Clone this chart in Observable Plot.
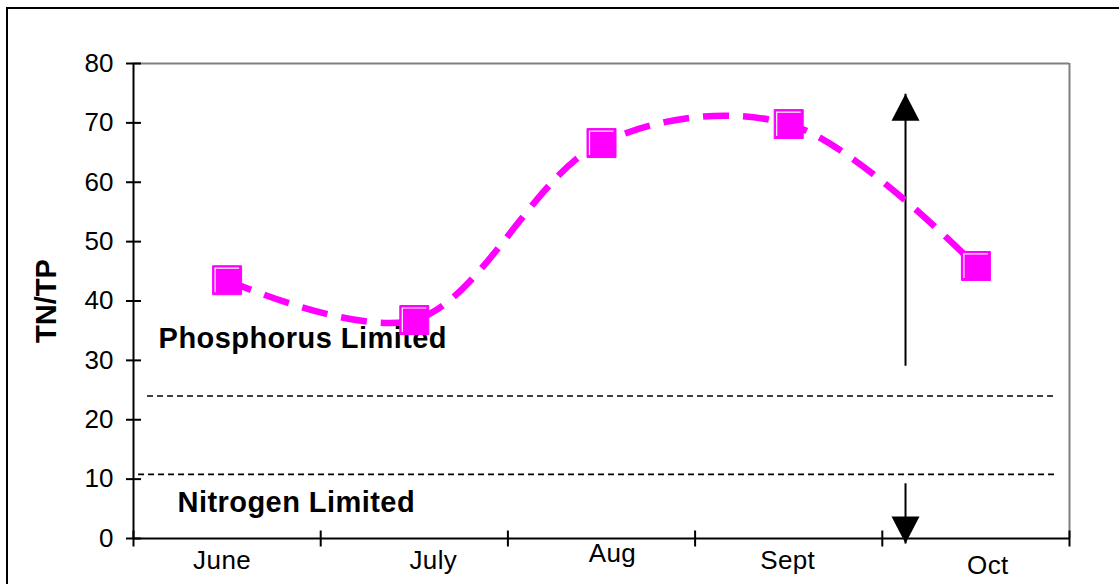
<!DOCTYPE html>
<html>
<head>
<meta charset="utf-8">
<script src="https://cdn.jsdelivr.net/npm/d3@7"></script>
<script src="https://cdn.jsdelivr.net/npm/@observablehq/plot@0.6"></script>
<style>
  html, body { margin: 0; padding: 0; background: #fff; overflow: hidden; }
  #wrap { position: relative; width: 1119px; height: 584px; overflow: hidden; }
  #frame { position: absolute; left: 6px; top: 7px; width: 1200px; height: 700px; border: 2.5px solid #000; box-sizing: border-box; }
  #chart { position: absolute; left: 0; top: 0; }
</style>
</head>
<body>
<div id="wrap"><div id="frame"></div><div id="chart"></div></div>
<script>
// ---- data ----
const months = ["June", "July", "Aug", "Sept", "Oct"];
const tnTp = [43.5, 36.8, 66.6, 69.8, 45.9];
const yTicks = [0, 10, 20, 30, 40, 50, 60, 70, 80];
const yLabel = "TN/TP";
const thresholdValues = [24, 10.8];
const thresholdStart = [0.075, 0.027];
const thresholdEnd = [4.925, 4.94];
const regionNames = ["Phosphorus Limited", "Nitrogen Limited"];
const regionX = [0.134, 0.235];
const regionY = [33.7, 6.0];
const arrowX = [4.124, 4.124];
const arrowFrom = [29.1, 9.3];
const arrowTo = [74.9, -0.85];
const arrowDir = ["up", "down"];

// ---- derived tables ----
const points = months.map((m, i) => ({month: m, x: i + 0.5, v: tnTp[i]}));
const bounds = d3.range(months.length + 1);
const thresholds = thresholdValues.map((v, i) => ({y: v, x1: thresholdStart[i], x2: thresholdEnd[i]}));
const regions = regionNames.map((t, i) => ({text: t, x: regionX[i], y: regionY[i]}));
const arrows = arrowX.map((x, i) => ({x, from: arrowFrom[i], to: arrowTo[i], dir: arrowDir[i]}));
// staggered label placement of the original (style offsets, px)
const labelOffset = {June: [-5, 22], July: [19, 22], Aug: [11, 15], Sept: [-1, 22], Oct: [12, 27]};

// ---- custom symbols ----
const hTick = {draw(ctx) { ctx.moveTo(-7.5, 0); ctx.lineTo(7.5, 0); }};
const vTick = {draw(ctx) { ctx.moveTo(0, -8); ctx.lineTo(0, 8); }};
const sq = {draw(ctx) { ctx.rect(-14.5, -14.5, 29, 29); }};
const hiLite = {draw(ctx) { ctx.moveTo(-12, 12); ctx.lineTo(-12, -12); ctx.lineTo(12, -12); }};
const head = {draw(ctx) { ctx.moveTo(0, 0); ctx.lineTo(14, 27); ctx.lineTo(-14, 27); ctx.closePath(); }};

const font = "'Liberation Sans', Arial, sans-serif";

const chart = Plot.plot({
  width: 1119,
  height: 584,
  marginLeft: 133,
  marginRight: 50,
  marginTop: 63,
  marginBottom: 46,
  style: {fontFamily: font, background: "transparent", overflow: "visible"},
  x: {domain: [0, months.length], axis: null},
  y: {domain: [0, 80], axis: null},
  marks: [
    Plot.ruleY([80], {stroke: "#808080", strokeWidth: 2}),
    Plot.ruleX([months.length], {stroke: "#808080", strokeWidth: 2}),
    Plot.ruleY(thresholds, {y: "y", x1: "x1", x2: "x2", stroke: "#000", strokeWidth: 1.6, strokeDasharray: "6,4"}),
    Plot.ruleX([0], {stroke: "#000", strokeWidth: 2}),
    Plot.ruleY([0], {stroke: "#000", strokeWidth: 2}),
    Plot.dot(yTicks, {x: 0, y: d => d, symbol: hTick, stroke: "#000", strokeWidth: 2, fill: "none"}),
    Plot.axisY(yTicks, {tickSize: 0, tickPadding: 20, fontSize: 26, fill: "#000", anchor: "left", label: null}),
    Plot.dot(bounds, {x: d => d, y: 0, symbol: vTick, stroke: "#000", strokeWidth: 2, fill: "none"}),
    Plot.text(points, {x: "x", y: 0, text: "month", fontSize: 26, fill: "#000", lineAnchor: "middle"}),
    Plot.text([yLabel], {frameAnchor: "left", textAnchor: "middle", dx: -87, text: d => d, rotate: -90, fontSize: 29, fontWeight: "bold", fill: "#000"}),
    Plot.text(regions, {x: "x", y: "y", text: "text", textAnchor: "start", lineAnchor: "middle", fontSize: 29, fontWeight: "bold", fill: "#000"}),
    Plot.link(arrows, {x1: "x", x2: "x", y1: "from", y2: "to", stroke: "#000", strokeWidth: 2}),
    Plot.dot(arrows, {x: "x", y: "to", symbol: head, fill: "#000", stroke: "none", rotate: d => d.dir === "up" ? 0 : 180}),
    Plot.line(points, {x: "x", y: "v", curve: "catmull-rom", stroke: "#FF00FF", strokeWidth: 6.5, strokeDasharray: "26,14", strokeLinecap: "butt"}),
    Plot.dot(points, {x: "x", y: "v", symbol: sq, fill: "#FF00FF", stroke: "#FF00FF", strokeWidth: 1}),
    Plot.dot(points, {x: "x", y: "v", symbol: hiLite, fill: "none", stroke: "#fff", strokeWidth: 1.2})
  ]
});
const texts = d3.select(chart).selectAll("text");
texts.filter(function() { return labelOffset[this.textContent] !== undefined; })
  .attr("dx", function() { return labelOffset[this.textContent][0]; })
  .attr("dy", function() { return labelOffset[this.textContent][1]; })
  .style("letter-spacing", "0.4px");
texts.filter(function() { return regionNames.includes(this.textContent); })
  .style("letter-spacing", "0.45px");
document.getElementById("chart").appendChild(chart);
</script>
</body>
</html>
